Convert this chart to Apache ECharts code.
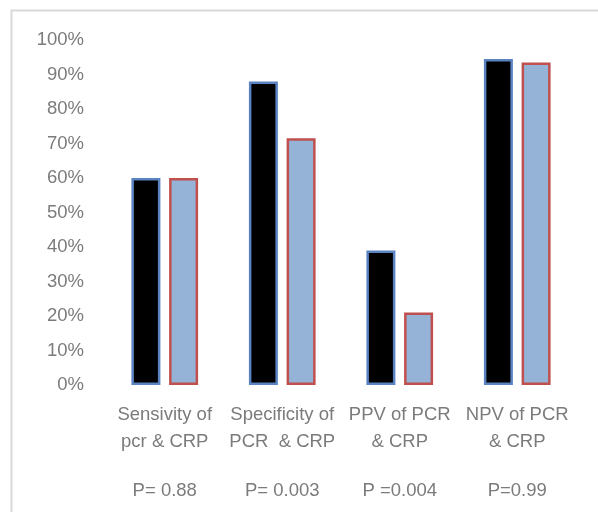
<!DOCTYPE html>
<html>
<head>
<meta charset="utf-8">
<script src="https://cdn.jsdelivr.net/npm/echarts@6/dist/echarts.min.js"></script>
<style>
  html, body { margin: 0; padding: 0; background: #fff; }
  #chart { width: 598px; height: 512px; }
</style>
</head>
<body>
<div id="chart"></div>
<script>
// Diagnostic performance of PCR and CRP
const categories = ['Sensivity of\npcr & CRP', 'Specificity of\nPCR  & CRP', 'PPV of PCR\n& CRP', 'NPV of PCR\n& CRP'];
const pValues = ['P= 0.88', 'P= 0.003', 'P =0.004', 'P=0.99'];
const seriesA = [60, 88, 39, 94.5];
const seriesB = [60, 71.5, 21, 93.5];
const yTicks = [0, 10, 20, 30, 40, 50, 60, 70, 80, 90, 100];

const font = 'Liberation Sans, Arial, sans-serif';
const textColor = '#7b7b7b';

const chart = echarts.init(document.getElementById('chart'), null, { renderer: 'canvas' });
chart.setOption({
  backgroundColor: '#fff',
  animation: false,
  graphic: [{
    type: 'rect',
    shape: { x: 11.5, y: 10.5, width: 600, height: 520 },
    style: { fill: 'none', stroke: '#d9d9d9', lineWidth: 2 },
    silent: true
  }],
  grid: { left: 106, right: 22, top: 40, bottom: 127 },
  xAxis: [{
    type: 'category',
    data: categories,
    axisLine: { show: false },
    axisTick: { show: false },
    axisLabel: {
      color: textColor, fontFamily: font, fontSize: 18.5, lineHeight: 27,
      margin: 16, interval: 0
    }
  }, {
    type: 'category',
    data: pValues,
    position: 'bottom',
    offset: 80,
    axisLine: { show: false },
    axisTick: { show: false },
    axisLabel: { color: textColor, fontFamily: font, fontSize: 18.5, margin: 16, interval: 0 }
  }],
  yAxis: {
    type: 'value',
    min: yTicks[0],
    max: yTicks[yTicks.length - 1],
    interval: 10,
    splitLine: { show: false },
    axisLine: { show: false },
    axisTick: { show: false },
    axisLabel: {
      color: textColor, fontFamily: font, fontSize: 18.5, margin: 22,
      formatter: v => v + '%'
    }
  },
  series: [{
    type: 'bar',
    data: seriesA,
    barWidth: 29,
    barGap: '30%',
    itemStyle: { color: '#000', borderColor: '#5b83c2', borderWidth: 2.5 }
  }, {
    type: 'bar',
    data: seriesB,
    barWidth: 29,
    itemStyle: { color: '#95b3d7', borderColor: '#c0504d', borderWidth: 2.5 }
  }]
});
</script>
</body>
</html>
